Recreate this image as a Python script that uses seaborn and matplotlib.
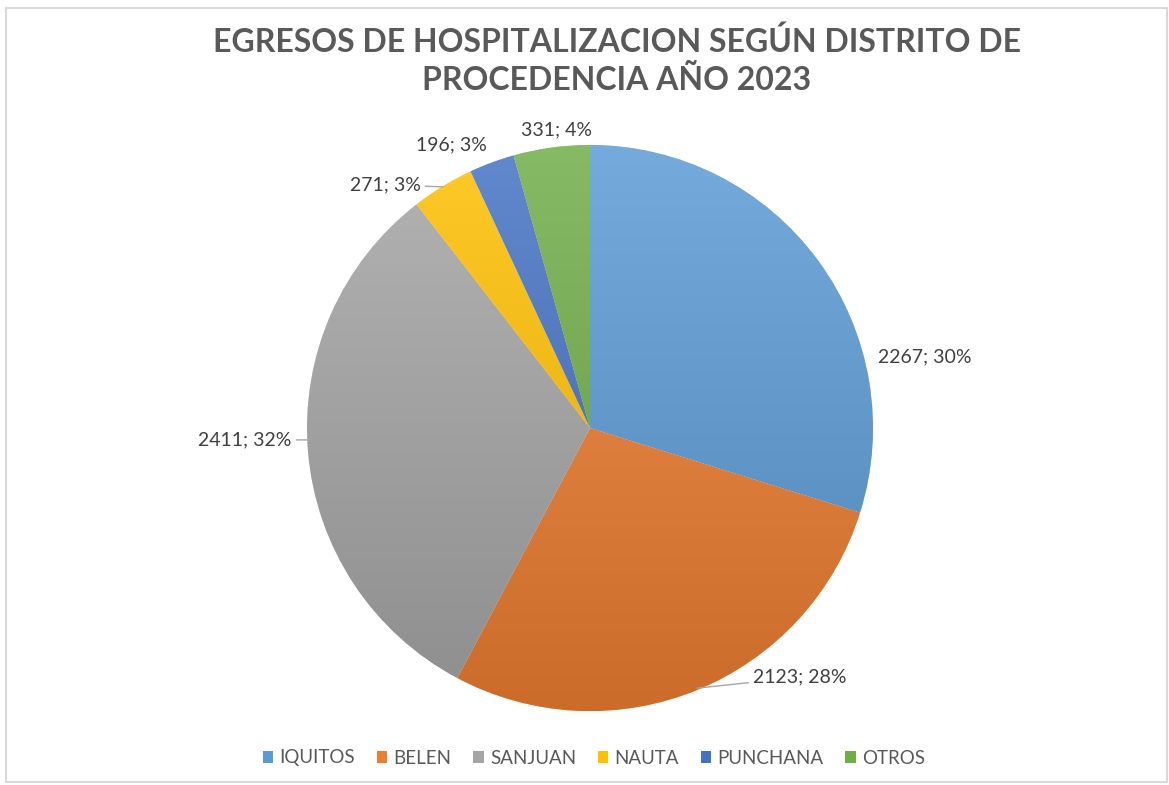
import numpy as np
import matplotlib
matplotlib.use("Agg")
import matplotlib.pyplot as plt
import seaborn as sns
from matplotlib.colors import LinearSegmentedColormap, to_rgb
from matplotlib.patches import Patch, Rectangle

# datos
distritos = ["IQUITOS", "BELEN", "SANJUAN", "NAUTA", "PUNCHANA", "OTROS"]
egresos = [2267, 2123, 2411, 271, 196, 331]
porcentajes = [30, 28, 32, 3, 3, 4]
colores = ["#5B9BD5", "#ED7D31", "#A5A5A5", "#FFC000", "#4472C4", "#70AD47"]

titulo = "EGRESOS DE HOSPITALIZACION SEGÚN DISTRITO DE\nPROCEDENCIA AÑO 2023"

# posicion de etiquetas (coordenadas del eje, radio = 1)
pos_etiqueta = [(1.184, 0.251), (0.742, -0.880), (-1.219, -0.042),
                (-0.724, 0.859), (-0.491, 1.0), (-0.120, 1.053)]
pos_guia = [None, (0.378, -0.919), (-0.996, -0.042), (-0.519, 0.852), None, None]

sns.set_theme(style="white")
plt.rcParams['font.family'] = ['Lato', 'DejaVu Sans']

fig = plt.figure(figsize=(11.69, 7.85), dpi=100)
ax = fig.add_axes([0, 0, 1, 1])

paleta = sns.color_palette(colores)
wedges, _ = ax.pie(egresos, colors=paleta, startangle=90, counterclock=False, radius=1,
                   wedgeprops=dict(linewidth=0.4, edgecolor='white'))

# degradado tipo excel
grad = np.linspace(0, 1, 256).reshape(-1, 1)
for w, c in zip(wedges, paleta):
    rgb = np.array(to_rgb(c))
    claro = rgb + (1 - rgb) * 0.16
    oscuro = rgb * 0.86
    cmap = LinearSegmentedColormap.from_list("g", [oscuro, claro])
    im = ax.imshow(grad, cmap=cmap, extent=[-1, 1, -1, 1], origin='lower',
                   aspect='auto', zorder=w.get_zorder() + 0.1)
    im.set_clip_path(w)

for v, p, xy_t, xy_g in zip(egresos, porcentajes, pos_etiqueta, pos_guia):
    txt = f"{v}; {p}%"
    if xy_g is None:
        ax.text(xy_t[0], xy_t[1], txt, ha='center', va='center', fontsize=14, color='#404040')
    else:
        ax.annotate(txt, xy=xy_g, xytext=xy_t, ha='center', va='center', fontsize=14,
                    color='#404040',
                    arrowprops=dict(arrowstyle='-', color='#a6a6a6', lw=1, shrinkA=1, shrinkB=0))

ax.set_xlim(-2.085, 2.046)
ax.set_ylim(-1.261, 1.512)
ax.set_aspect('auto')
ax.axis('off')

fig.text(617 / 1169, 1 - 61 / 785, titulo, ha='center', va='center', fontsize=23,
         fontweight='bold', color='#595959', linespacing=1.3)

handles = [Patch(facecolor=c, edgecolor='none') for c in paleta]
fig.legend(handles, distritos, loc='center', bbox_to_anchor=(594 / 1169, 1 - 758 / 785),
           ncol=6, frameon=False, fontsize=13.5, handlelength=0.55, handleheight=0.55,
           handletextpad=0.35, columnspacing=1.15, labelcolor='#595959')

fig.add_artist(Rectangle((6 / 1169, 3 / 785), 1161 / 1169, 774 / 785, transform=fig.transFigure,
                         fill=False, edgecolor='#d9d9d9', lw=1.5))

fig.savefig('out.png', dpi=100)
